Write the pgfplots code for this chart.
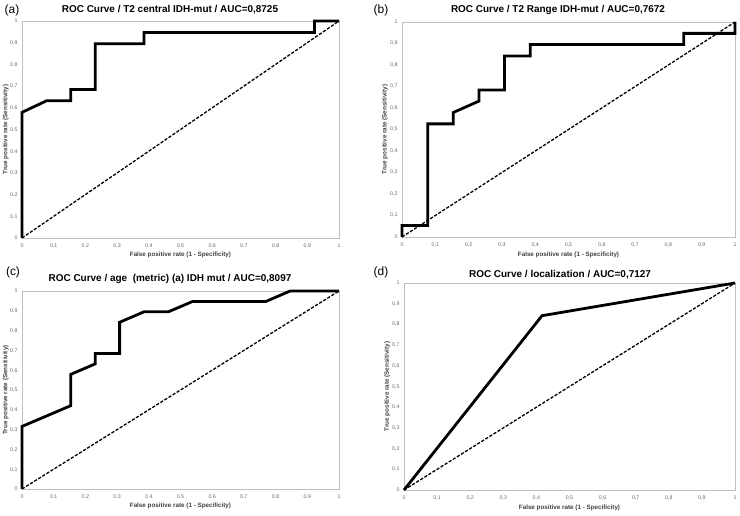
\documentclass[border=0pt]{standalone}
\usepackage{fontspec}
\setmainfont{Liberation Sans}
\usepackage{pgfplots}
\pgfplotsset{compat=1.18}

\pgfplotsset{
  rocax/.style={
    scale only axis,
    anchor=south west,
    xmin=0, xmax=1, ymin=0, ymax=1,
    xtick={0,0.1,0.2,0.3,0.4,0.5,0.6,0.7,0.8,0.9,1},
    ytick={0,0.1,0.2,0.3,0.4,0.5,0.6,0.7,0.8,0.9,1},
    axis line style={black!25},
    major tick length=0pt,
    /pgf/number format/assume math mode=true,
    tick label style={font=\fontsize{5.3}{6}\selectfont, text=black!60},
    xticklabel style={yshift=-2bp},
    yticklabel style={xshift=-1bp},
    label style={font=\bfseries\fontsize{6.3}{7}\selectfont, text=black!75, inner sep=0.5bp},
    xlabel={False positive rate (1 - Specificity)},
    ylabel={True positive rate (Sensitivity)},
    xlabel style={yshift=-1bp},
    ylabel style={at={(axis description cs:-0.04,0.5)}, anchor=south},
    clip=false,
  },
  roc/.style={black, line width=2.8bp, line join=miter},
  chance/.style={black, line width=1.3bp, dash pattern=on 3.2bp off 1.6bp},
}

\begin{document}
\begin{tikzpicture}[x=1bp, y=1bp]
\path (0,0) rectangle (740,516);

% (a)
\begin{axis}[rocax, at={(22bp,278bp)}, width=317bp, height=217bp]
\addplot[chance] coordinates {(0,0)(1,1)};
\addplot[roc] coordinates {
  (0,0)(0,0.579)(0.077,0.632)(0.154,0.632)(0.154,0.684)(0.231,0.684)
  (0.231,0.895)(0.385,0.895)(0.385,0.947)(0.923,0.947)(0.923,1)(1,1)};
\end{axis}

% (b)
\begin{axis}[rocax, at={(402bp,279bp)}, width=333bp, height=215bp,
  /pgf/number format/use comma]
\addplot[chance] coordinates {(0,0)(1,1)};
\addplot[roc] coordinates {
  (0,0)(0,0.053)(0.077,0.053)(0.077,0.526)(0.154,0.526)(0.154,0.579)
  (0.231,0.632)(0.231,0.684)(0.308,0.684)(0.308,0.842)(0.385,0.842)
  (0.385,0.895)(0.846,0.895)(0.846,0.947)(1,0.947)(1,1)};
\end{axis}

% (c)
\begin{axis}[rocax, at={(22bp,27bp)}, width=317bp, height=198bp]
\addplot[chance] coordinates {(0,0)(1,1)};
\addplot[roc] coordinates {
  (0,0)(0,0.316)(0.154,0.421)(0.154,0.579)(0.231,0.632)(0.231,0.684)
  (0.308,0.684)(0.308,0.842)(0.385,0.895)(0.462,0.895)(0.538,0.947)
  (0.769,0.947)(0.846,1)(1,1)};
\end{axis}

% (d)
\begin{axis}[rocax, at={(404bp,26bp)}, width=331bp, height=207bp,
  /pgf/number format/use comma]
\addplot[chance] coordinates {(0,0)(1,1)};
\addplot[roc] coordinates {(0,0)(0.417,0.842)(1,1)};
\end{axis}

% panel letters and titles
\node[font=\fontsize{12}{14}\selectfont] at (12,506) {(a)};
\node[font=\fontsize{12}{14}\selectfont] at (381,506) {(b)};
\node[font=\fontsize{12}{14}\selectfont] at (13,244) {(c)};
\node[font=\fontsize{12}{14}\selectfont] at (381,244) {(d)};

\node[font=\bfseries\fontsize{10}{12}\selectfont] at (170,506) {ROC Curve / T2 central IDH-mut / AUC=0,8725};
\node[font=\bfseries\fontsize{10}{12}\selectfont] at (558,506) {ROC Curve / T2 Range IDH-mut / AUC=0,7672};
\node[font=\bfseries\fontsize{10}{12}\selectfont] at (170,237) {ROC Curve / age\ \ (metric) (a) IDH mut / AUC=0,8097};
\node[font=\bfseries\fontsize{10}{12}\selectfont] at (560,241) {ROC Curve / localization / AUC=0,7127};
\end{tikzpicture}
\end{document}
